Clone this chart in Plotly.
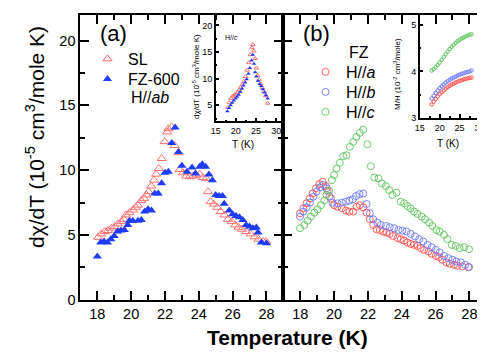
import plotly.graph_objects as go

W, H = 485, 352

# ---------------- data ----------------
sl_T = [18.04, 18.23, 18.44, 18.63, 18.83, 19.03, 19.22, 19.42, 19.58, 19.7, 19.9, 20.1, 20.27, 20.4,
        20.6, 20.76, 20.9, 21.03, 21.19, 21.35, 21.48, 21.64, 21.8, 21.98, 22.13, 22.2, 22.4, 22.57,
        22.8, 22.87, 23.06, 23.26, 23.46, 23.65, 23.85, 24.05, 24.24, 24.44, 24.54, 24.7, 24.89, 25.09,
        25.29, 25.52, 25.72, 25.95, 26.15, 26.35, 26.55, 26.8, 27.06, 27.3, 27.53, 27.8, 27.98]
sl_v = [4.82, 5.08, 5.26, 5.34, 5.52, 5.65, 5.85, 6.03, 6.2, 6.54, 6.72, 6.92, 7.13, 7.3,
        7.65, 7.82, 8.08, 8.34, 8.77, 9.23, 9.69, 10.13, 10.9, 12.2, 12.95, 13.2, 13.34, 11.9,
        11.34, 10.05, 9.8, 9.54, 9.49, 9.54, 9.62, 9.69, 9.44, 9.36, 8.34, 7.57, 7.38, 7.13,
        6.8, 6.54, 6.21, 6.03, 5.77, 5.59, 5.44, 5.26, 5.08, 4.85, 4.67, 4.49, 4.49]

fz600_T = [18.0, 18.2, 18.4, 18.6, 18.8, 19.0, 19.2, 19.4, 19.6, 19.8, 19.9, 20.1, 20.4, 20.6, 20.8,
           21.0, 21.2, 21.4, 21.6, 21.8, 22.0, 22.2, 22.4, 22.6, 22.8, 23.0, 23.3, 23.6, 23.8, 24.05,
           24.2, 24.4, 24.6, 24.8, 25.0, 25.2, 25.4, 25.5, 25.8, 26.0, 26.2, 26.4, 26.6, 26.8, 27.0,
           27.2, 27.4, 27.5, 27.7, 28.0]
fz600_v = [3.34, 4.41, 4.49, 4.41, 4.67, 4.92, 5.26, 5.34, 5.38, 5.77, 6.1, 6.1, 6.1, 6.15, 6.8,
           6.98, 6.88, 8.2, 8.2, 8.98, 9.8, 9.88, 12.1, 13.3, 11.4, 10.34, 9.88, 10.2, 9.74, 10.26,
           10.46, 10.26, 9.67, 9.23, 8.08, 8.0, 8.0, 7.4, 6.88, 6.6, 6.46, 6.36, 6.15, 5.77, 5.65,
           5.52, 5.57, 5.18, 4.41, 4.36]

ha_T = [17.98, 18.18, 18.37, 18.57, 18.73, 18.92, 19.12, 19.32, 19.51, 19.61, 19.81, 20.0, 20.2, 20.46,
        20.7, 20.9, 21.13, 21.33, 21.52, 21.72, 21.92, 22.11, 22.31, 22.51, 22.7, 22.9, 23.1, 23.29,
        23.49, 23.75, 23.94, 24.14, 24.34, 24.53, 24.73, 24.93, 25.12, 25.32, 25.58, 25.77, 26.01,
        26.21, 26.4, 26.64, 26.84, 27.1, 27.29, 27.58, 27.94]
ha_v = [6.67, 7.05, 7.44, 7.82, 8.2, 8.6, 8.92, 9.1, 8.77, 8.41, 7.82, 7.3, 7.18, 7.05,
        6.88, 6.8, 6.8, 7.18, 7.3, 7.13, 6.72, 6.21, 5.77, 5.44, 5.38, 5.26, 5.18, 5.08,
        4.92, 4.75, 4.67, 4.57, 4.41, 4.31, 4.23, 4.15, 3.98, 3.85, 3.72, 3.54, 3.38,
        3.28, 3.08, 2.88, 2.77, 2.69, 2.62, 2.57, 2.52]

hb_T = [17.98, 18.18, 18.37, 18.57, 18.77, 18.96, 19.16, 19.36, 19.55, 19.72, 19.9, 20.2, 20.46, 20.7,
        20.9, 21.1, 21.3, 21.5, 21.72, 21.92, 22.11, 22.31, 22.56, 22.76, 23.06, 23.29, 23.55, 23.8,
        24.04, 24.27, 24.53, 24.79, 25.03, 25.27, 25.52, 25.77, 26.01, 26.24, 26.5, 26.76, 27.0,
        27.23, 27.49, 27.75, 27.98]
hb_v = [6.41, 6.8, 7.13, 7.49, 7.95, 8.34, 8.67, 8.85, 8.6, 8.0, 7.49, 7.44, 7.49, 7.57,
        7.65, 7.75, 8.0, 8.15, 8.2, 7.38, 6.67, 6.21, 5.95, 5.77, 5.69, 5.59, 5.52, 5.38,
        5.34, 5.26, 5.08, 4.88, 4.67, 4.49, 4.23, 4.05, 3.85, 3.65, 3.38, 3.21, 3.08,
        2.95, 2.88, 2.69, 2.52]

hc_T = [17.98, 18.24, 18.43, 18.63, 18.83, 19.02, 19.22, 19.42, 19.55, 19.71, 19.87, 20.0, 20.14, 20.34,
        20.54, 20.73, 20.93, 21.13, 21.32, 21.52, 21.72, 21.97, 22.17, 22.37, 22.62, 22.82, 23.06,
        23.25, 23.45, 23.69, 23.94, 24.14, 24.34, 24.53, 24.73, 24.93, 25.18, 25.38, 25.62, 25.81,
        26.05, 26.24, 26.5, 26.7, 26.96, 27.19, 27.43, 27.69, 27.98]
hc_v = [5.52, 5.77, 6.1, 6.41, 6.72, 6.98, 7.3, 7.65, 8.08, 8.41, 9.23, 9.62, 10.13, 10.57,
        11.08, 11.15, 11.8, 12.18, 12.57, 12.88, 13.13, 12.0, 10.3, 9.44, 9.36, 8.98, 8.77,
        8.46, 8.08, 8.26, 7.57, 7.44, 7.23, 7.05, 6.8, 6.62, 6.41, 6.21, 5.95, 5.69,
        5.38, 5.26, 5.0, 4.67, 4.23, 4.15, 3.98, 4.05, 3.9]

# inset (a): H//c
ins_sl_T = [18.0, 18.4, 18.8, 19.2, 19.6, 20.0, 20.4, 20.8, 21.2, 21.6, 22.0, 22.4, 22.8, 23.2,
            23.6, 24.0, 24.2, 24.5, 24.8, 25.1, 25.4, 25.8, 26.2, 26.6, 27.0, 27.4, 27.9]
ins_sl_v = [4.6, 5.5, 6.3, 6.7, 6.9, 7.1, 7.4, 7.9, 8.4, 8.9, 9.5, 10.4, 11.6, 13.0,
            14.5, 15.8, 16.4, 15.2, 13.8, 12.0, 10.6, 9.8, 9.0, 8.3, 7.6, 6.8, 5.4]
ins_fz_T = [17.9, 18.3, 18.7, 19.1, 19.5, 19.9, 20.3, 20.7, 21.1, 21.5, 21.9, 22.3, 22.7, 23.1,
            23.5, 23.9, 24.2, 24.5, 24.8, 25.1, 25.5, 25.9, 26.3, 26.7, 27.1, 27.5, 27.9]
ins_fz_v = [3.9, 4.5, 5.0, 5.5, 5.9, 6.3, 6.6, 7.0, 7.5, 8.1, 8.7, 9.3, 9.9, 10.9,
            12.0, 13.4, 14.5, 12.8, 11.2, 10.4, 9.6, 9.0, 8.6, 8.0, 7.4, 6.9, 6.3]

# inset (b): M/H
mh_T = [18.0, 18.5, 19.0, 19.5, 20.0, 20.5, 21.0, 21.5, 22.0, 22.5, 23.0, 23.5, 24.0, 24.5,
        25.0, 25.5, 26.0, 26.5, 27.0, 27.5, 28.0]
mh_c = [4.02, 4.05, 4.09, 4.14, 4.19, 4.25, 4.31, 4.37, 4.43, 4.48, 4.53, 4.57, 4.61, 4.65,
        4.68, 4.71, 4.73, 4.75, 4.77, 4.79, 4.80]
mh_b = [3.42, 3.48, 3.54, 3.59, 3.64, 3.68, 3.72, 3.76, 3.79, 3.82, 3.85, 3.87, 3.89, 3.91,
        3.93, 3.95, 3.96, 3.98, 3.99, 4.00, 4.02]
mh_a = [3.29, 3.35, 3.41, 3.46, 3.51, 3.55, 3.59, 3.63, 3.66, 3.69, 3.72, 3.74, 3.76, 3.78,
        3.80, 3.81, 3.83, 3.84, 3.85, 3.86, 3.87]

main_xticks = [18, 20, 22, 24, 26, 28]
main_yticks = [0, 5, 10, 15, 20]

RED_T = "#ff6f6f"
BLUE_T = "#1e3cf5"
RED_C = "#ff4d4d"
BLUE_C = "#6a78ff"
GREEN_C = "#5cc45c"
FONT = "Arial, Liberation Sans, sans-serif"

def px_x(p):
    return p / W

def px_y(p):
    return 1 - p / H

fig = go.Figure()

# panel (a)
fig.add_trace(go.Scatter(x=sl_T, y=sl_v, mode="markers", name="SL", xaxis="x", yaxis="y",
                         marker=dict(symbol="triangle-up-open", size=8, color=RED_T, line=dict(width=1)),
                         legend="legend"))
fig.add_trace(go.Scatter(x=fz600_T, y=fz600_v, mode="markers", name="FZ-600", xaxis="x", yaxis="y",
                         marker=dict(symbol="triangle-up", size=8, color=BLUE_T),
                         legend="legend2"))
# panel (b)
for lg, (T, v, c, nm) in zip(["legend3", "legend4", "legend5"],
                             [(ha_T, ha_v, RED_C, "H//<i>a</i>"),
                              (hb_T, hb_v, BLUE_C, "H//<i>b</i>"),
                              (hc_T, hc_v, GREEN_C, "H//<i>c</i>")]):
    fig.add_trace(go.Scatter(x=T, y=v, mode="markers", name=nm, xaxis="x2", yaxis="y2",
                             marker=dict(symbol="circle-open", size=7, color=c, line=dict(width=0.9)),
                             legend=lg))
# inset (a)
fig.add_trace(go.Scatter(x=ins_sl_T, y=ins_sl_v, mode="markers", xaxis="x3", yaxis="y3", showlegend=False,
                         marker=dict(symbol="triangle-up-open", size=4, color=RED_T, line=dict(width=1))))
fig.add_trace(go.Scatter(x=ins_fz_T, y=ins_fz_v, mode="markers", xaxis="x3", yaxis="y3", showlegend=False,
                         marker=dict(symbol="triangle-up", size=4, color=BLUE_T)))
# inset (b)
for v, c in [(mh_a, RED_C), (mh_b, BLUE_C), (mh_c, GREEN_C)]:
    fig.add_trace(go.Scatter(x=mh_T, y=v, mode="markers", xaxis="x4", yaxis="y4", showlegend=False,
                             marker=dict(symbol="circle-open", size=3.5, color=c, line=dict(width=1))))

main_ax = dict(showline=True, linewidth=2, linecolor="black", mirror="ticks", ticks="inside",
               ticklen=9, tickwidth=2, tickcolor="black", showgrid=False, zeroline=False,
               automargin=False, tickfont=dict(family=FONT, size=14.5, color="black"))
ins_ax = dict(showline=True, linewidth=1.5, linecolor="black", mirror=False, ticks="inside",
              ticklen=4, tickwidth=1.5, tickcolor="black", showgrid=False, zeroline=False,
              automargin=False, tickfont=dict(family=FONT, size=9, color="black"))

def leg(xp, yp):
    return dict(x=px_x(xp), y=px_y(yp), xanchor="left", yanchor="middle", bgcolor="rgba(0,0,0,0)",
                font=dict(family=FONT, size=16, color="black"), itemwidth=31)

ya_dom = [px_y(291.7), px_y(6.7)]
fig.update_layout(
    width=W, height=H, margin=dict(l=0, r=0, t=0, b=0, autoexpand=False),
    paper_bgcolor="white", plot_bgcolor="rgba(0,0,0,0)",
    font=dict(family=FONT, color="black"),
    xaxis=dict(**main_ax, domain=[px_x(72.4), px_x(275.4)], range=[17, 29], anchor="y",
               tickvals=main_xticks, minor=dict(dtick=1, tick0=17, ticklen=5, tickwidth=2, ticks="inside")),
    yaxis=dict(**main_ax, domain=ya_dom, range=[0, 22], anchor="x",
               tickvals=main_yticks, minor=dict(dtick=2.5, tick0=0, ticklen=5, tickwidth=2, ticks="inside")),
    xaxis2=dict(**main_ax, domain=[px_x(275.4), px_x(478.3)], range=[17, 29], anchor="y2",
                tickvals=main_xticks, minor=dict(dtick=1, tick0=17, ticklen=5, tickwidth=2, ticks="inside")),
    yaxis2=dict(**main_ax, domain=ya_dom, range=[0, 22], anchor="x2", showticklabels=False,
                tickvals=main_yticks, minor=dict(dtick=2.5, tick0=0, ticklen=5, tickwidth=2, ticks="inside")),
    xaxis3=dict(**ins_ax, domain=[px_x(207.7), px_x(275.4)], range=[15, 31.8], anchor="y3",
                tickvals=[15, 20, 25, 30], minor=dict(dtick=2.5, ticklen=2, ticks="inside")),
    yaxis3=dict(**ins_ax, domain=[px_y(113.3), px_y(6.7)], range=[2, 22], anchor="x3",
                tickvals=[5, 10, 15, 20], minor=dict(dtick=2.5, ticklen=2, ticks="inside")),
    xaxis4=dict(**ins_ax, domain=[px_x(411.7), px_x(478.3)], range=[15, 31.7], anchor="y4",
                tickvals=[15, 20, 25, 30], minor=dict(dtick=2.5, ticklen=2, ticks="inside")),
    yaxis4=dict(**ins_ax, domain=[px_y(110), px_y(6.7)], range=[3, 5.22], anchor="x4",
                tickvals=[3, 4, 5], minor=dict(dtick=0.5, ticklen=2, ticks="inside")),
    legend=leg(79, 51),
    legend2=leg(79, 71),
    legend3=leg(297, 64),
    legend4=leg(297, 84),
    legend5=leg(297, 104),
    showlegend=True,
)

ann = []
def add_text(text, xp, yp, size, angle=0, xanchor="center", bold=False):
    ann.append(dict(text=(f"<b>{text}</b>" if bold else text), x=px_x(xp), y=px_y(yp),
                    xref="paper", yref="paper", showarrow=False, textangle=angle,
                    xanchor=xanchor, yanchor="middle",
                    font=dict(family=FONT, size=size, color="black")))

add_text("(a)", 105, 26, 22)
add_text("(b)", 308, 26, 22)
add_text("H//<i>ab</i>", 121, 90, 16, xanchor="left")
add_text("FZ", 339, 44, 16, xanchor="left")
add_text("Temperature (K)", 279, 329, 21, bold=True)
add_text("dχ/dT (10<sup>-5</sup> cm<sup>3</sup>/mole K)", 27, 129, 21, angle=-90)
# inset labels
add_text("T (K)", 235, 136, 10)
add_text("dχ/dT (10<sup>-5</sup> cm<sup>3</sup>/mole K)", 188, 69, 8, angle=-90)
add_text("H//<i>c</i>", 215, 29, 7, xanchor="left")
add_text("T (K)", 440, 135, 10)
add_text("M/H (10<sup>-2</sup> cm<sup>3</sup>/mole)", 389, 66, 8, angle=-90)
fig.update_layout(annotations=ann)

fig.write_html("out.html")
